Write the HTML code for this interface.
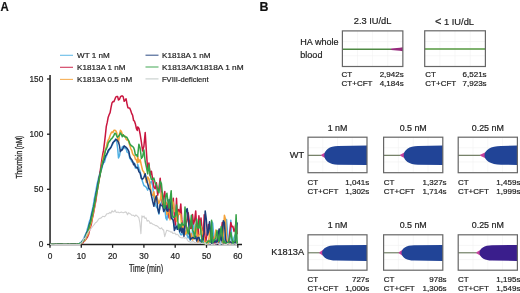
<!DOCTYPE html>
<html><head><meta charset="utf-8"><style>
html,body{margin:0;padding:0;background:#fff;}
svg{display:block;will-change:transform;} text{stroke:#222;stroke-width:0.2px;}
</style></head><body>
<svg width="520" height="293" viewBox="0 0 520 293">
<rect width="520" height="293" fill="#fff"/>
<line x1="50.05" y1="75" x2="50.05" y2="245.2" stroke="#1e1e1e" stroke-width="1.5"/>
<line x1="49.3" y1="244.5" x2="242" y2="244.5" stroke="#1e1e1e" stroke-width="1.4"/>
<line x1="47" y1="244.5" x2="50" y2="244.5" stroke="#1e1e1e" stroke-width="1.3"/>
<text x="43.3" y="247.4" text-anchor="end" font-size="8.3" fill="#222" font-family="Liberation Sans, sans-serif">0</text>
<line x1="47" y1="189.3" x2="50" y2="189.3" stroke="#1e1e1e" stroke-width="1.3"/>
<text x="43.3" y="192.2" text-anchor="end" font-size="8.3" fill="#222" font-family="Liberation Sans, sans-serif">50</text>
<line x1="47" y1="134.2" x2="50" y2="134.2" stroke="#1e1e1e" stroke-width="1.3"/>
<text x="43.3" y="137.1" text-anchor="end" font-size="8.3" fill="#222" font-family="Liberation Sans, sans-serif">100</text>
<line x1="47" y1="79.0" x2="50" y2="79.0" stroke="#1e1e1e" stroke-width="1.3"/>
<text x="43.3" y="81.9" text-anchor="end" font-size="8.3" fill="#222" font-family="Liberation Sans, sans-serif">150</text>
<line x1="50.0" y1="244.5" x2="50.0" y2="247.8" stroke="#1e1e1e" stroke-width="1.3"/>
<text x="50.0" y="258.5" text-anchor="middle" font-size="8.3" fill="#222" font-family="Liberation Sans, sans-serif">0</text>
<line x1="81.3" y1="244.5" x2="81.3" y2="247.8" stroke="#1e1e1e" stroke-width="1.3"/>
<text x="81.3" y="258.5" text-anchor="middle" font-size="8.3" fill="#222" font-family="Liberation Sans, sans-serif">10</text>
<line x1="112.6" y1="244.5" x2="112.6" y2="247.8" stroke="#1e1e1e" stroke-width="1.3"/>
<text x="112.6" y="258.5" text-anchor="middle" font-size="8.3" fill="#222" font-family="Liberation Sans, sans-serif">20</text>
<line x1="143.9" y1="244.5" x2="143.9" y2="247.8" stroke="#1e1e1e" stroke-width="1.3"/>
<text x="143.9" y="258.5" text-anchor="middle" font-size="8.3" fill="#222" font-family="Liberation Sans, sans-serif">30</text>
<line x1="175.2" y1="244.5" x2="175.2" y2="247.8" stroke="#1e1e1e" stroke-width="1.3"/>
<text x="175.2" y="258.5" text-anchor="middle" font-size="8.3" fill="#222" font-family="Liberation Sans, sans-serif">40</text>
<line x1="206.5" y1="244.5" x2="206.5" y2="247.8" stroke="#1e1e1e" stroke-width="1.3"/>
<text x="206.5" y="258.5" text-anchor="middle" font-size="8.3" fill="#222" font-family="Liberation Sans, sans-serif">50</text>
<line x1="237.8" y1="244.5" x2="237.8" y2="247.8" stroke="#1e1e1e" stroke-width="1.3"/>
<text x="237.8" y="258.5" text-anchor="middle" font-size="8.3" fill="#222" font-family="Liberation Sans, sans-serif">60</text>
<text transform="translate(146,272.1) scale(0.72,1)" text-anchor="middle" font-size="10" fill="#222" style="stroke-width:0.22px" font-family="Liberation Sans, sans-serif">Time (min)</text>
<text transform="translate(22.4,157.1) rotate(-90) scale(0.68,1)" text-anchor="middle" font-size="9.6" fill="#222" style="stroke-width:0.3px" font-family="Liberation Sans, sans-serif">Thrombin (nM)</text>
<line x1="60" y1="55.3" x2="73" y2="55.3" stroke="#4fb0e3" stroke-width="1.1" stroke-opacity="0.85"/>
<text x="77" y="58.099999999999994" font-size="8.1" fill="#222" font-family="Liberation Sans, sans-serif">WT 1 nM</text>
<line x1="60" y1="67.3" x2="73" y2="67.3" stroke="#c9163f" stroke-width="1.1" stroke-opacity="0.85"/>
<text x="77" y="70.1" font-size="8.1" fill="#222" font-family="Liberation Sans, sans-serif">K1813A 1 nM</text>
<line x1="60" y1="79.4" x2="73" y2="79.4" stroke="#f4a23a" stroke-width="1.1" stroke-opacity="0.85"/>
<text x="77" y="82.2" font-size="8.1" fill="#222" font-family="Liberation Sans, sans-serif">K1813A 0.5 nM</text>
<line x1="145.5" y1="55.2" x2="158.5" y2="55.2" stroke="#1c3d7a" stroke-width="1.1" stroke-opacity="0.85"/>
<text x="162" y="58.0" font-size="8.1" fill="#222" font-family="Liberation Sans, sans-serif">K1818A 1 nM</text>
<line x1="145.5" y1="67" x2="158.5" y2="67" stroke="#34a146" stroke-width="1.1" stroke-opacity="0.85"/>
<text x="162" y="69.8" font-size="8.1" fill="#222" textLength="81.6" lengthAdjust="spacingAndGlyphs" font-family="Liberation Sans, sans-serif">K1813A/K1818A 1 nM</text>
<line x1="145.5" y1="78.9" x2="158.5" y2="78.9" stroke="#bcc6c2" stroke-width="1.1" stroke-opacity="0.85"/>
<text x="162" y="81.7" font-size="8.1" fill="#222" textLength="46.6" lengthAdjust="spacingAndGlyphs" font-family="Liberation Sans, sans-serif">FVIII-deficient</text>
<g>
<polyline points="50.0,244.2 50.9,244.2 51.9,244.2 52.8,244.2 53.8,244.2 54.7,244.2 55.6,244.2 56.6,244.2 57.5,244.2 58.5,244.2 59.4,244.2 60.3,244.2 61.3,244.2 62.2,244.2 63.1,244.2 64.1,244.2 65.0,244.2 66.0,244.2 66.9,244.2 67.8,244.2 68.8,244.2 69.7,244.2 70.7,244.2 71.6,244.2 72.5,244.2 73.5,244.2 74.4,244.2 75.4,244.2 76.3,244.2 77.2,244.2 78.2,243.9 79.1,243.6 80.0,243.3 81.0,242.5 81.9,241.1 82.9,240.1 83.8,238.4 84.7,235.9 85.7,234.0 86.6,232.0 87.6,228.3 88.5,225.1 89.4,221.4 90.4,218.7 91.3,214.1 92.3,209.9 93.2,206.0 94.1,200.0 95.1,194.8 96.0,190.6 96.9,184.9 97.9,180.9 98.8,176.7 99.8,173.4 100.7,170.4 101.6,169.3 102.6,165.3 103.5,162.8 104.5,162.1 105.4,158.3 106.3,156.4 107.3,153.5 108.2,152.1 109.2,149.6 110.1,148.0 111.0,147.6 112.0,145.2 112.9,143.8 113.9,141.1 114.8,140.8 115.7,139.0 116.7,141.4 117.6,147.8 118.5,157.9 119.5,155.8 120.4,150.4 121.4,150.2 122.3,147.0 123.2,146.5 124.2,146.8 125.1,148.6 126.1,148.1 127.0,152.1 127.9,152.4 128.9,153.9 129.8,158.5 130.8,159.3 131.7,161.8 132.6,162.1 133.6,162.5 134.5,163.4 135.4,168.1 136.4,168.3 137.3,168.4 137.6,164.1 138.9,168.3 140.1,171.4 141.4,177.2 142.6,181.8 143.9,185.5 145.2,186.3 146.4,187.5 147.7,190.1 148.9,186.2 150.2,182.9 151.4,181.2 152.7,185.7 153.9,198.2 155.2,203.8 156.4,206.9 157.7,208.7 158.9,214.1 160.2,204.9 161.4,202.7 162.7,198.3 163.7,197.4 164.8,208.3 165.9,218.2 166.9,220.0 168.0,211.2 169.1,208.7 170.1,213.6 171.2,207.8 172.3,217.0 173.3,221.0 174.4,226.6 175.5,223.8 176.5,229.1 177.6,225.5 178.6,224.6 179.7,232.5 180.8,234.7 181.8,234.8 182.9,233.1 184.0,234.2 185.0,232.8 186.1,230.7 187.2,235.8 188.2,237.9 189.3,235.4 190.3,240.3 191.4,238.0 192.5,230.8 193.5,220.7 194.6,233.4 195.7,238.4 196.7,238.3 197.8,237.9 198.9,236.9 199.9,241.2 201.0,239.6 202.1,241.3 203.1,242.8 204.2,239.5 205.2,240.6 206.3,240.1 207.4,240.7 208.4,240.4 209.5,243.9 210.6,236.8 211.6,221.3 212.7,223.2 213.8,236.3 214.8,242.7 215.9,242.4 217.0,237.5 218.0,235.4 219.1,237.9 220.1,244.2 221.2,243.6 222.3,241.9 223.3,242.1 224.4,243.1 225.5,233.4 226.5,219.4 227.6,233.6 228.7,244.2 229.7,243.7 230.8,220.2 231.9,242.0 232.9,244.1 234.0,237.7 235.0,235.1 236.1,239.7 237.2,242.9" fill="none" stroke="#4fb0e3" stroke-width="1.5" stroke-linejoin="round"/>
<polyline points="50.0,244.2 50.9,244.2 51.9,244.2 52.8,244.2 53.8,244.2 54.7,244.2 55.6,244.2 56.6,244.2 57.5,244.2 58.5,244.2 59.4,244.2 60.3,244.2 61.3,244.2 62.2,244.2 63.1,244.2 64.1,244.2 65.0,244.2 66.0,244.2 66.9,244.2 67.8,244.2 68.8,244.2 69.7,244.2 70.7,244.2 71.6,244.2 72.5,244.2 73.5,244.2 74.4,244.2 75.4,244.2 76.3,244.2 77.2,244.2 78.2,244.1 79.1,244.1 80.0,243.8 81.0,243.5 81.9,243.2 82.9,242.9 83.8,241.3 84.7,240.8 85.7,239.5 86.6,238.2 87.6,236.8 88.5,234.8 89.4,230.8 90.4,227.3 91.3,224.4 92.3,218.7 93.2,214.9 94.1,209.9 95.1,204.6 96.0,199.8 96.9,192.6 97.9,186.9 98.8,181.7 99.8,174.1 100.7,167.6 101.6,161.4 102.6,155.0 103.5,150.4 104.5,142.7 105.4,134.9 106.3,126.4 107.3,122.2 108.2,117.2 109.2,114.5 110.1,112.6 111.0,107.6 112.0,102.9 112.9,101.6 113.9,101.7 114.8,99.5 115.7,97.2 116.7,96.5 117.6,96.4 118.5,100.0 119.5,99.3 120.4,96.9 121.4,96.0 122.3,95.9 123.2,96.8 124.2,101.3 125.1,100.1 126.1,98.8 127.0,103.8 127.9,107.7 128.9,107.9 129.8,108.3 130.8,110.7 131.7,113.6 132.6,115.2 133.6,120.5 134.5,121.2 135.4,123.9 136.4,128.7 137.3,130.5 137.6,126.9 138.9,128.2 140.1,134.0 141.4,142.1 142.6,151.0 143.9,146.3 145.2,132.5 146.4,151.8 147.7,170.7 148.9,163.1 150.2,175.6 151.4,171.2 152.7,179.3 153.9,187.0 155.2,188.7 156.4,182.8 157.7,195.2 158.9,188.0 160.2,178.2 161.4,194.3 162.7,205.1 163.7,196.3 164.8,191.6 165.9,205.6 166.9,203.1 168.0,209.2 169.1,218.0 170.1,205.6 171.2,204.4 172.3,208.7 173.3,198.2 174.4,216.9 175.5,224.9 176.5,198.2 177.6,220.0 178.6,209.6 179.7,213.5 180.8,204.1 181.8,219.4 182.9,230.8 184.0,233.0 185.0,226.2 186.1,223.6 187.2,220.0 188.2,212.8 189.3,221.1 190.3,228.5 191.4,228.2 192.5,214.6 193.5,223.9 194.6,220.6 195.7,210.9 196.7,226.8 197.8,242.1 198.9,215.8 199.9,226.1 201.0,218.1 202.1,229.2 203.1,239.6 204.2,214.7 205.2,243.1 206.3,238.9 207.4,232.1 208.4,224.6 209.5,235.3 210.6,236.7 211.6,233.2 212.7,236.9 213.8,243.0 214.8,242.9 215.9,244.0 217.0,240.0 218.0,244.0 219.1,240.8 220.1,238.4 221.2,231.3 222.3,222.4 223.3,243.3 224.4,244.2 225.5,244.2 226.5,241.5 227.6,241.9 228.7,243.6 229.7,233.5 230.8,222.5 231.9,226.8 232.9,226.3 234.0,231.4 235.0,229.1 236.1,221.9 237.2,234.3" fill="none" stroke="#c9163f" stroke-width="1.5" stroke-linejoin="round"/>
<polyline points="50.0,244.2 50.9,244.2 51.9,244.2 52.8,244.2 53.8,244.2 54.7,244.2 55.6,244.2 56.6,244.2 57.5,244.2 58.5,244.2 59.4,244.2 60.3,244.2 61.3,244.2 62.2,244.2 63.1,244.2 64.1,244.2 65.0,244.2 66.0,244.2 66.9,244.2 67.8,244.2 68.8,244.2 69.7,244.2 70.7,244.2 71.6,244.2 72.5,244.2 73.5,244.2 74.4,244.2 75.4,244.2 76.3,244.2 77.2,244.2 78.2,244.1 79.1,243.9 80.0,243.7 81.0,243.5 81.9,243.1 82.9,241.8 83.8,241.0 84.7,240.5 85.7,239.2 86.6,236.5 87.6,235.4 88.5,232.6 89.4,229.4 90.4,225.4 91.3,222.3 92.3,217.6 93.2,213.0 94.1,208.9 95.1,203.2 96.0,197.3 96.9,192.9 97.9,187.2 98.8,182.4 99.8,176.3 100.7,171.2 101.6,165.7 102.6,160.7 103.5,155.1 104.5,153.2 105.4,149.9 106.3,146.7 107.3,142.5 108.2,140.1 109.2,138.3 110.1,135.5 111.0,133.3 112.0,131.9 112.9,132.6 113.9,130.3 114.8,130.3 115.7,130.7 116.7,132.6 117.6,139.3 118.5,143.2 119.5,134.2 120.4,130.3 121.4,131.4 122.3,134.2 123.2,136.1 124.2,136.0 125.1,136.0 126.1,139.2 127.0,140.1 127.9,139.7 128.9,142.2 129.8,145.6 130.8,148.6 131.7,150.3 132.6,153.7 133.6,155.3 134.5,155.9 135.4,159.3 136.4,159.9 137.3,162.7 137.6,155.8 138.9,162.3 140.1,159.5 141.4,165.4 142.6,170.4 143.9,171.9 145.2,176.7 146.4,182.5 147.7,177.0 148.9,179.0 150.2,185.7 151.4,194.1 152.7,195.4 153.9,191.7 155.2,201.8 156.4,195.7 157.7,199.6 158.9,203.4 160.2,200.1 161.4,192.9 162.7,202.8 163.7,201.0 164.8,207.9 165.9,202.3 166.9,214.6 168.0,209.0 169.1,212.7 170.1,219.8 171.2,208.6 172.3,200.7 173.3,202.8 174.4,211.3 175.5,210.9 176.5,221.2 177.6,215.1 178.6,212.3 179.7,214.5 180.8,214.3 181.8,230.8 182.9,225.6 184.0,225.9 185.0,234.4 186.1,233.4 187.2,227.8 188.2,230.5 189.3,232.2 190.3,237.3 191.4,233.5 192.5,240.1 193.5,238.6 194.6,231.6 195.7,224.4 196.7,230.7 197.8,242.3 198.9,235.1 199.9,234.3 201.0,226.3 202.1,230.9 203.1,234.5 204.2,237.4 205.2,244.2 206.3,242.8 207.4,241.0 208.4,243.5 209.5,233.5 210.6,227.6 211.6,238.3 212.7,242.3 213.8,240.0 214.8,236.9 215.9,229.9 217.0,236.9 218.0,242.2 219.1,235.9 220.1,228.4 221.2,235.7 222.3,242.4 223.3,233.1 224.4,215.2 225.5,219.2 226.5,237.8 227.6,243.9 228.7,243.4 229.7,241.0 230.8,244.2 231.9,242.2 232.9,243.1 234.0,243.7 235.0,242.4 236.1,242.0 237.2,242.1" fill="none" stroke="#f4a23a" stroke-width="1.5" stroke-linejoin="round"/>
<polyline points="50.0,244.2 50.9,244.2 51.9,244.2 52.8,244.2 53.8,244.2 54.7,244.2 55.6,244.2 56.6,244.2 57.5,244.2 58.5,244.2 59.4,244.2 60.3,244.2 61.3,244.2 62.2,244.2 63.1,244.2 64.1,244.2 65.0,244.2 66.0,244.2 66.9,244.2 67.8,244.2 68.8,244.2 69.7,244.2 70.7,244.2 71.6,244.2 72.5,244.2 73.5,244.2 74.4,244.2 75.4,244.2 76.3,244.2 77.2,244.2 78.2,244.0 79.1,243.8 80.0,243.4 81.0,243.2 81.9,242.1 82.9,241.0 83.8,239.7 84.7,238.4 85.7,235.9 86.6,232.8 87.6,231.1 88.5,228.2 89.4,224.2 90.4,221.4 91.3,217.1 92.3,212.7 93.2,209.0 94.1,205.3 95.1,199.5 96.0,194.0 96.9,189.6 97.9,184.4 98.8,179.4 99.8,175.8 100.7,170.9 101.6,167.3 102.6,164.3 103.5,161.3 104.5,159.0 105.4,155.8 106.3,155.0 107.3,153.0 108.2,150.4 109.2,149.4 110.1,148.7 111.0,147.0 112.0,144.8 112.9,142.6 113.9,141.7 114.8,140.9 115.7,139.4 116.7,139.9 117.6,140.8 118.5,142.3 119.5,145.9 120.4,151.6 121.4,150.0 122.3,149.9 123.2,148.0 124.2,145.9 125.1,146.5 126.1,147.4 127.0,148.2 127.9,149.6 128.9,151.6 129.8,156.7 130.8,158.6 131.7,159.5 132.6,161.3 133.6,164.8 134.5,163.9 135.4,166.6 136.4,167.4 137.3,167.8 137.6,167.5 138.9,171.8 140.1,173.1 141.4,178.5 142.6,179.2 143.9,177.3 145.2,173.8 146.4,179.1 147.7,183.8 148.9,188.2 150.2,189.9 151.4,195.5 152.7,201.6 153.9,206.3 155.2,199.0 156.4,196.0 157.7,208.2 158.9,213.1 160.2,204.3 161.4,205.6 162.7,206.0 163.7,211.5 164.8,209.6 165.9,205.4 166.9,210.7 168.0,211.2 169.1,199.6 170.1,201.0 171.2,218.0 172.3,219.3 173.3,220.3 174.4,230.6 175.5,227.5 176.5,226.4 177.6,229.2 178.6,224.3 179.7,231.7 180.8,226.7 181.8,232.7 182.9,228.3 184.0,236.3 185.0,223.6 186.1,210.7 187.2,208.6 188.2,217.2 189.3,230.4 190.3,239.4 191.4,238.7 192.5,237.4 193.5,237.8 194.6,238.6 195.7,236.2 196.7,241.1 197.8,237.6 198.9,237.5 199.9,241.2 201.0,243.3 202.1,239.0 203.1,240.0 204.2,231.5 205.2,210.9 206.3,219.2 207.4,234.9 208.4,232.1 209.5,221.8 210.6,231.7 211.6,244.0 212.7,243.2 213.8,242.4 214.8,240.5 215.9,241.4 217.0,244.2 218.0,235.4 219.1,229.1 220.1,236.4 221.2,240.9 222.3,235.0 223.3,220.7 224.4,222.7 225.5,239.2 226.5,242.5 227.6,243.6 228.7,241.4 229.7,242.1 230.8,242.0 231.9,244.2 232.9,243.4 234.0,242.0 235.0,243.7 236.1,237.1 237.2,222.4" fill="none" stroke="#1c3d7a" stroke-width="1.5" stroke-linejoin="round"/>
<polyline points="50.0,244.2 50.9,244.2 51.9,244.2 52.8,244.2 53.8,244.2 54.7,244.2 55.6,244.2 56.6,244.2 57.5,244.2 58.5,244.2 59.4,244.2 60.3,244.2 61.3,244.2 62.2,244.2 63.1,244.2 64.1,244.2 65.0,244.2 66.0,244.2 66.9,244.2 67.8,244.2 68.8,244.2 69.7,244.2 70.7,244.2 71.6,244.2 72.5,244.2 73.5,244.2 74.4,244.2 75.4,244.2 76.3,244.2 77.2,244.2 78.2,244.0 79.1,243.8 80.0,243.6 81.0,243.1 81.9,242.6 82.9,241.0 83.8,240.2 84.7,238.8 85.7,237.2 86.6,233.8 87.6,232.3 88.5,228.7 89.4,225.6 90.4,223.2 91.3,218.9 92.3,215.1 93.2,210.3 94.1,205.4 95.1,200.9 96.0,195.7 96.9,192.0 97.9,186.2 98.8,181.2 99.8,175.7 100.7,172.0 101.6,166.7 102.6,162.3 103.5,159.4 104.5,155.5 105.4,150.8 106.3,148.9 107.3,146.8 108.2,143.1 109.2,141.5 110.1,140.6 111.0,139.1 112.0,138.3 112.9,137.0 113.9,135.4 114.8,133.2 115.7,133.5 116.7,136.1 117.6,137.2 118.5,136.3 119.5,135.0 120.4,133.0 121.4,134.4 122.3,136.8 123.2,134.7 124.2,136.1 125.1,136.9 126.1,137.0 127.0,137.5 127.9,139.4 128.9,141.1 129.8,143.8 130.8,145.1 131.7,146.0 132.6,146.4 133.6,147.5 134.5,150.1 135.4,154.9 136.4,154.7 137.3,156.3 137.6,156.5 138.9,144.2 140.1,148.0 141.4,158.4 142.6,156.8 143.9,149.9 145.2,161.5 146.4,167.0 147.7,173.8 148.9,164.7 150.2,174.8 151.4,179.6 152.7,179.3 153.9,178.1 155.2,183.1 156.4,185.0 157.7,190.1 158.9,192.8 160.2,181.2 161.4,183.5 162.7,197.1 163.7,206.7 164.8,208.2 165.9,195.5 166.9,193.2 168.0,202.3 169.1,208.2 170.1,199.3 171.2,190.7 172.3,215.0 173.3,217.4 174.4,216.9 175.5,215.9 176.5,204.9 177.6,218.5 178.6,228.8 179.7,224.2 180.8,226.9 181.8,222.9 182.9,225.3 184.0,224.9 185.0,207.0 186.1,224.6 187.2,229.8 188.2,234.1 189.3,229.0 190.3,225.3 191.4,215.3 192.5,230.3 193.5,231.7 194.6,237.3 195.7,230.5 196.7,219.0 197.8,227.9 198.9,228.1 199.9,220.2 201.0,233.0 202.1,242.1 203.1,242.5 204.2,243.8 205.2,243.3 206.3,243.7 207.4,242.1 208.4,241.1 209.5,240.9 210.6,242.5 211.6,220.2 212.7,243.0 213.8,239.9 214.8,240.1 215.9,237.2 217.0,230.6 218.0,238.0 219.1,241.5 220.1,234.0 221.2,226.6 222.3,235.6 223.3,243.1 224.4,241.0 225.5,243.5 226.5,243.4 227.6,242.9 228.7,242.2 229.7,237.9 230.8,232.5 231.9,237.8 232.9,244.2 234.0,241.2 235.0,241.0 236.1,214.7 237.2,243.8" fill="none" stroke="#34a146" stroke-width="1.5" stroke-linejoin="round"/>
<polyline points="50.0,244.5 51.0,244.4 52.1,244.3 53.1,244.3 54.1,244.2 55.2,244.5 56.2,244.4 57.2,244.5 58.3,244.5 59.3,244.5 60.3,244.5 61.4,244.5 62.4,244.5 63.4,244.3 64.5,244.4 65.5,244.4 66.5,244.4 67.6,244.5 68.6,244.5 69.6,244.3 70.7,244.5 71.7,244.5 72.7,244.5 73.8,244.5 74.8,244.5 75.8,244.5 76.9,244.4 77.9,244.5 78.9,244.4 80.0,244.5 81.0,243.0 82.0,242.8 83.1,240.6 84.1,238.1 85.1,238.9 86.2,236.0 87.2,233.8 88.2,232.2 89.3,230.5 90.3,229.6 91.3,228.2 92.3,227.0 93.4,225.5 94.4,224.4 95.4,222.8 96.5,222.2 97.5,220.9 98.5,219.2 99.6,218.4 100.6,218.3 101.6,217.5 102.7,216.3 103.7,216.5 104.7,216.6 105.8,215.4 106.8,213.8 107.8,213.7 108.9,213.4 109.9,212.4 110.9,213.2 112.0,210.7 113.0,211.9 114.0,211.8 115.1,210.1 116.1,212.4 117.1,212.2 118.2,212.1 119.2,212.8 120.2,212.5 121.3,212.1 122.3,212.5 123.3,212.8 124.4,212.3 125.4,211.9 126.4,212.2 127.5,214.8 128.5,212.7 129.5,213.4 130.6,214.0 131.6,215.2 132.6,215.2 133.7,215.4 134.7,216.5 135.7,215.1 136.8,215.6 137.8,216.6 138.8,217.6 139.9,222.9 140.9,233.8 141.9,215.8 143.0,217.1 144.0,216.0 145.0,218.5 146.1,217.8 147.1,221.2 148.1,220.4 149.2,221.2 150.2,223.5 151.2,222.8 152.3,223.8 153.3,224.5 154.3,224.7 155.4,225.7 156.4,225.5 157.4,226.2 158.5,227.1 159.5,228.4 160.5,228.7 161.6,227.8 162.6,229.6 163.6,229.9 164.7,236.6 165.7,233.4 166.7,230.2 167.8,230.5 168.8,231.1 169.8,231.2 170.8,232.1 171.9,231.9 172.9,233.4 173.9,233.2 175.0,233.1 176.0,234.8 177.0,234.1 178.1,234.9 179.1,236.4 180.1,237.3 181.2,237.8 182.2,237.9 183.2,237.5 184.3,238.1 185.3,237.9 186.3,237.7 187.4,240.0 188.4,241.5 189.4,241.6 190.5,242.4 191.5,241.8 192.5,242.0 193.6,241.1 194.6,243.2 195.6,242.6 196.7,242.9 197.7,243.0 198.7,243.4 199.8,241.8 200.8,243.4 201.8,243.4 202.9,243.1 203.9,243.5 204.9,242.6 206.0,244.5 207.0,244.1 208.0,244.3 209.1,244.0 210.1,243.4 211.1,244.4 212.2,244.5 213.2,244.0 214.2,244.5 215.3,243.7 216.3,244.0 217.3,242.8 218.4,243.8 219.4,244.5 220.4,244.0 221.5,243.5 222.5,244.2 223.5,244.3 224.6,244.4 225.6,244.5 226.6,244.5 227.7,243.5 228.7,244.1 229.7,244.5 230.8,243.7 231.8,244.4 232.8,244.3 233.9,244.3 234.9,243.7 235.9,244.5 237.0,244.5" fill="none" stroke="#cfcfcf" stroke-width="1.1" stroke-linejoin="round"/>
</g>
<text transform="translate(0.6,10.6) scale(0.93,1)" font-size="12.3" font-weight="bold" fill="#111" font-family="Liberation Sans, sans-serif">A</text>
<text x="259.4" y="10.9" font-size="12.4" font-weight="bold" fill="#111" font-family="Liberation Sans, sans-serif">B</text>
<text x="372.6" y="24.4" text-anchor="middle" font-size="9.3" fill="#222" font-family="Liberation Sans, sans-serif">2.3 IU/dL</text>
<text x="435" y="24.7" font-size="9.3" fill="#222" font-family="Liberation Sans, sans-serif"><tspan font-size="11" dy="0.3">&lt;</tspan><tspan dy="-0.3" dx="2.6">1 IU/dL</tspan></text>
<text x="300.3" y="45.3" font-size="9.05" fill="#222" font-family="Liberation Sans, sans-serif">HA whole</text>
<text x="300.3" y="58" font-size="9.05" fill="#222" font-family="Liberation Sans, sans-serif">blood</text>
<line x1="357.5" y1="30.9" x2="357.5" y2="66.5" stroke="#f2f2f2" stroke-width="0.6"/>
<line x1="372.6" y1="30.9" x2="372.6" y2="66.5" stroke="#f2f2f2" stroke-width="0.6"/>
<line x1="387.7" y1="30.9" x2="387.7" y2="66.5" stroke="#f2f2f2" stroke-width="0.6"/>
<line x1="342.4" y1="41.6" x2="402.85" y2="41.6" stroke="#f0f0f0" stroke-width="0.6"/>
<line x1="342.4" y1="55.8" x2="402.85" y2="55.8" stroke="#f0f0f0" stroke-width="0.6"/>
<line x1="342.4" y1="49.2" x2="391" y2="49.2" stroke="#4f8a44" stroke-width="1.6"/>
<polygon points="391,48.400000000000006 399.85,47.7 402.85,47.2 402.85,51.2 399.85,50.7 391,50.0" fill="#952a7c"/>
<rect x="342.4" y="30.9" width="60.450000000000045" height="35.6" fill="none" stroke="#666" stroke-width="1.2"/>
<line x1="439.9" y1="30.8" x2="439.9" y2="66.5" stroke="#f2f2f2" stroke-width="0.6"/>
<line x1="455.0" y1="30.8" x2="455.0" y2="66.5" stroke="#f2f2f2" stroke-width="0.6"/>
<line x1="470.2" y1="30.8" x2="470.2" y2="66.5" stroke="#f2f2f2" stroke-width="0.6"/>
<line x1="424.7" y1="41.5" x2="485.4" y2="41.5" stroke="#f0f0f0" stroke-width="0.6"/>
<line x1="424.7" y1="55.8" x2="485.4" y2="55.8" stroke="#f0f0f0" stroke-width="0.6"/>
<line x1="424.7" y1="49.0" x2="485.4" y2="49.0" stroke="#55983f" stroke-width="1.6"/>
<rect x="424.7" y="30.8" width="60.69999999999999" height="35.7" fill="none" stroke="#666" stroke-width="1.2"/>
<text x="341.6" y="76.7" font-size="8" fill="#222" font-family="Liberation Sans, sans-serif">CT</text><text x="403.7" y="76.7" text-anchor="end" font-size="8" fill="#222" font-family="Liberation Sans, sans-serif">2,942s</text><text x="341.6" y="85.7" font-size="8" fill="#222" font-family="Liberation Sans, sans-serif">CT+CFT</text><text x="403.7" y="85.7" text-anchor="end" font-size="8" fill="#222" font-family="Liberation Sans, sans-serif">4,184s</text>
<text x="425.3" y="76.7" font-size="8" fill="#222" font-family="Liberation Sans, sans-serif">CT</text><text x="486.6" y="76.7" text-anchor="end" font-size="8" fill="#222" font-family="Liberation Sans, sans-serif">6,521s</text><text x="425.3" y="85.7" font-size="8" fill="#222" font-family="Liberation Sans, sans-serif">CT+CFT</text><text x="486.6" y="85.7" text-anchor="end" font-size="8" fill="#222" font-family="Liberation Sans, sans-serif">7,923s</text>
<text x="337.5" y="131.4" text-anchor="middle" font-size="8.9" fill="#222" font-family="Liberation Sans, sans-serif">1 nM</text>
<text x="337.5" y="228.3" text-anchor="middle" font-size="8.9" fill="#222" font-family="Liberation Sans, sans-serif">1 nM</text>
<text x="413.2" y="131.4" text-anchor="middle" font-size="8.9" fill="#222" font-family="Liberation Sans, sans-serif">0.5 nM</text>
<text x="413.2" y="228.3" text-anchor="middle" font-size="8.9" fill="#222" font-family="Liberation Sans, sans-serif">0.5 nM</text>
<text x="487.8" y="131.4" text-anchor="middle" font-size="8.9" fill="#222" font-family="Liberation Sans, sans-serif">0.25 nM</text>
<text x="487.8" y="228.3" text-anchor="middle" font-size="8.9" fill="#222" font-family="Liberation Sans, sans-serif">0.25 nM</text>
<text x="304.2" y="158.2" text-anchor="end" font-size="9.25" fill="#222" font-family="Liberation Sans, sans-serif">WT</text>
<text x="304.2" y="255.3" text-anchor="end" font-size="9.25" fill="#222" font-family="Liberation Sans, sans-serif">K1813A</text>
<line x1="322.8" y1="137.2" x2="322.8" y2="172.7" stroke="#f2f2f2" stroke-width="0.6"/>
<line x1="337.5" y1="137.2" x2="337.5" y2="172.7" stroke="#f2f2f2" stroke-width="0.6"/>
<line x1="352.2" y1="137.2" x2="352.2" y2="172.7" stroke="#f2f2f2" stroke-width="0.6"/>
<line x1="308" y1="147.8" x2="367" y2="147.8" stroke="#f0f0f0" stroke-width="0.6"/>
<line x1="308" y1="162.0" x2="367" y2="162.0" stroke="#f0f0f0" stroke-width="0.6"/>
<line x1="308" y1="155.3" x2="321.8" y2="155.3" stroke="#59684a" stroke-width="1.05"/>
<polygon points="321.3,154.8 325.8,152.10000000000002 325.8,158.5 321.3,155.8" fill="#c8409c"/>
<path d="M324.3,155.3 C324.3,150.13 329.42,145.9 338,145.9 L367,145.6 L367,165.0 L338,164.7 C329.42,164.7 324.3,160.47 324.3,155.3 Z" fill="#214497"/>
<rect x="308" y="137.2" width="59" height="35.5" fill="none" stroke="#666" stroke-width="1.2"/>
<line x1="398.4" y1="137.2" x2="398.4" y2="172.7" stroke="#f2f2f2" stroke-width="0.6"/>
<line x1="413.2" y1="137.2" x2="413.2" y2="172.7" stroke="#f2f2f2" stroke-width="0.6"/>
<line x1="428.0" y1="137.2" x2="428.0" y2="172.7" stroke="#f2f2f2" stroke-width="0.6"/>
<line x1="383.6" y1="147.8" x2="442.8" y2="147.8" stroke="#f0f0f0" stroke-width="0.6"/>
<line x1="383.6" y1="162.0" x2="442.8" y2="162.0" stroke="#f0f0f0" stroke-width="0.6"/>
<line x1="383.6" y1="155.3" x2="400.7" y2="155.3" stroke="#59684a" stroke-width="1.05"/>
<polygon points="400.2,154.8 405.2,152.10000000000002 405.2,158.5 400.2,155.8" fill="#c8409c"/>
<path d="M403.7,155.3 C403.7,150.13 409.03,145.9 418,145.9 L442.8,145.6 L442.8,165.0 L418,164.7 C409.03,164.7 403.7,160.47 403.7,155.3 Z" fill="#214497"/>
<rect x="383.6" y="137.2" width="59.19999999999999" height="35.5" fill="none" stroke="#666" stroke-width="1.2"/>
<line x1="473.0" y1="137.2" x2="473.0" y2="172.7" stroke="#f2f2f2" stroke-width="0.6"/>
<line x1="487.8" y1="137.2" x2="487.8" y2="172.7" stroke="#f2f2f2" stroke-width="0.6"/>
<line x1="502.6" y1="137.2" x2="502.6" y2="172.7" stroke="#f2f2f2" stroke-width="0.6"/>
<line x1="458.2" y1="147.8" x2="517.4" y2="147.8" stroke="#f0f0f0" stroke-width="0.6"/>
<line x1="458.2" y1="162.0" x2="517.4" y2="162.0" stroke="#f0f0f0" stroke-width="0.6"/>
<line x1="458.2" y1="155.3" x2="480.7" y2="155.3" stroke="#59684a" stroke-width="1.05"/>
<polygon points="480.2,154.8 486,152.10000000000002 486,158.5 480.2,155.8" fill="#c8409c"/>
<path d="M484.5,155.3 C484.5,150.13 490.60,145.9 501,145.9 L517.4,145.6 L517.4,165.0 L501,164.7 C490.60,164.7 484.5,160.47 484.5,155.3 Z" fill="#214497"/>
<rect x="458.2" y="137.2" width="59.19999999999999" height="35.5" fill="none" stroke="#666" stroke-width="1.2"/>
<line x1="322.8" y1="234.8" x2="322.8" y2="270.2" stroke="#f2f2f2" stroke-width="0.6"/>
<line x1="337.5" y1="234.8" x2="337.5" y2="270.2" stroke="#f2f2f2" stroke-width="0.6"/>
<line x1="352.2" y1="234.8" x2="352.2" y2="270.2" stroke="#f2f2f2" stroke-width="0.6"/>
<line x1="308" y1="245.4" x2="367" y2="245.4" stroke="#f0f0f0" stroke-width="0.6"/>
<line x1="308" y1="259.6" x2="367" y2="259.6" stroke="#f0f0f0" stroke-width="0.6"/>
<line x1="308" y1="252.8" x2="319.9" y2="252.8" stroke="#5e6e50" stroke-width="1.05"/>
<polygon points="319.4,252.3 323.6,249.60000000000002 323.6,256.0 319.4,253.3" fill="#c8409c"/>
<path d="M322.1,252.8 C322.1,248.62 327.29,245.2 336,245.2 L367,244.89999999999998 L367,260.90000000000003 L336,260.6 C327.29,260.6 322.1,257.09 322.1,252.8 Z" fill="#214497"/>
<rect x="308" y="234.8" width="59" height="35.39999999999998" fill="none" stroke="#666" stroke-width="1.2"/>
<line x1="398.4" y1="234.8" x2="398.4" y2="270.2" stroke="#f2f2f2" stroke-width="0.6"/>
<line x1="413.2" y1="234.8" x2="413.2" y2="270.2" stroke="#f2f2f2" stroke-width="0.6"/>
<line x1="428.0" y1="234.8" x2="428.0" y2="270.2" stroke="#f2f2f2" stroke-width="0.6"/>
<line x1="383.6" y1="245.4" x2="442.8" y2="245.4" stroke="#f0f0f0" stroke-width="0.6"/>
<line x1="383.6" y1="259.6" x2="442.8" y2="259.6" stroke="#f0f0f0" stroke-width="0.6"/>
<line x1="383.6" y1="252.8" x2="399.3" y2="252.8" stroke="#5e6e50" stroke-width="1.05"/>
<polygon points="398.8,252.3 403,249.60000000000002 403,256.0 398.8,253.3" fill="#c8409c"/>
<path d="M401.5,252.8 C401.5,248.62 406.20,245.2 414,245.2 L442.8,244.89999999999998 L442.8,260.90000000000003 L414,260.6 C406.20,260.6 401.5,257.09 401.5,252.8 Z" fill="#214497"/>
<rect x="383.6" y="234.8" width="59.19999999999999" height="35.39999999999998" fill="none" stroke="#666" stroke-width="1.2"/>
<line x1="473.0" y1="234.8" x2="473.0" y2="270.2" stroke="#f2f2f2" stroke-width="0.6"/>
<line x1="487.8" y1="234.8" x2="487.8" y2="270.2" stroke="#f2f2f2" stroke-width="0.6"/>
<line x1="502.6" y1="234.8" x2="502.6" y2="270.2" stroke="#f2f2f2" stroke-width="0.6"/>
<line x1="458.2" y1="245.4" x2="517.4" y2="245.4" stroke="#f0f0f0" stroke-width="0.6"/>
<line x1="458.2" y1="259.6" x2="517.4" y2="259.6" stroke="#f0f0f0" stroke-width="0.6"/>
<line x1="458.2" y1="252.8" x2="476.9" y2="252.8" stroke="#5e6e50" stroke-width="1.05"/>
<polygon points="476.4,252.3 481,249.60000000000002 481,256.0 476.4,253.3" fill="#c8409c"/>
<path d="M479.5,252.8 C479.5,248.62 484.20,245.2 492,245.2 L517.4,244.89999999999998 L517.4,260.90000000000003 L492,260.6 C484.20,260.6 479.5,257.09 479.5,252.8 Z" fill="#3a1e8c"/>
<rect x="458.2" y="234.8" width="59.19999999999999" height="35.39999999999998" fill="none" stroke="#666" stroke-width="1.2"/>
<text x="307.4" y="184.9" font-size="8" fill="#222" font-family="Liberation Sans, sans-serif">CT</text><text x="369.3" y="184.9" text-anchor="end" font-size="8" fill="#222" font-family="Liberation Sans, sans-serif">1,041s</text><text x="307.4" y="193.9" font-size="8" fill="#222" font-family="Liberation Sans, sans-serif">CT+CFT</text><text x="369.3" y="193.9" text-anchor="end" font-size="8" fill="#222" font-family="Liberation Sans, sans-serif">1,302s</text>
<text x="383.8" y="184.9" font-size="8" fill="#222" font-family="Liberation Sans, sans-serif">CT</text><text x="446.6" y="184.9" text-anchor="end" font-size="8" fill="#222" font-family="Liberation Sans, sans-serif">1,327s</text><text x="383.8" y="193.9" font-size="8" fill="#222" font-family="Liberation Sans, sans-serif">CT+CFT</text><text x="446.6" y="193.9" text-anchor="end" font-size="8" fill="#222" font-family="Liberation Sans, sans-serif">1,714s</text>
<text x="457.9" y="184.9" font-size="8" fill="#222" font-family="Liberation Sans, sans-serif">CT</text><text x="520.4" y="184.9" text-anchor="end" font-size="8" fill="#222" font-family="Liberation Sans, sans-serif">1,459s</text><text x="457.9" y="193.9" font-size="8" fill="#222" font-family="Liberation Sans, sans-serif">CT+CFT</text><text x="520.4" y="193.9" text-anchor="end" font-size="8" fill="#222" font-family="Liberation Sans, sans-serif">1,999s</text>
<text x="307.4" y="281.7" font-size="8" fill="#222" font-family="Liberation Sans, sans-serif">CT</text><text x="369.3" y="281.7" text-anchor="end" font-size="8" fill="#222" font-family="Liberation Sans, sans-serif">727s</text><text x="307.4" y="290.5" font-size="8" fill="#222" font-family="Liberation Sans, sans-serif">CT+CFT</text><text x="369.3" y="290.5" text-anchor="end" font-size="8" fill="#222" font-family="Liberation Sans, sans-serif">1,000s</text>
<text x="383.8" y="281.7" font-size="8" fill="#222" font-family="Liberation Sans, sans-serif">CT</text><text x="446.6" y="281.7" text-anchor="end" font-size="8" fill="#222" font-family="Liberation Sans, sans-serif">978s</text><text x="383.8" y="290.5" font-size="8" fill="#222" font-family="Liberation Sans, sans-serif">CT+CFT</text><text x="446.6" y="290.5" text-anchor="end" font-size="8" fill="#222" font-family="Liberation Sans, sans-serif">1,306s</text>
<text x="457.9" y="281.7" font-size="8" fill="#222" font-family="Liberation Sans, sans-serif">CT</text><text x="520.4" y="281.7" text-anchor="end" font-size="8" fill="#222" font-family="Liberation Sans, sans-serif">1,195s</text><text x="457.9" y="290.5" font-size="8" fill="#222" font-family="Liberation Sans, sans-serif">CT+CFT</text><text x="520.4" y="290.5" text-anchor="end" font-size="8" fill="#222" font-family="Liberation Sans, sans-serif">1,549s</text>
</svg>
</body></html>
